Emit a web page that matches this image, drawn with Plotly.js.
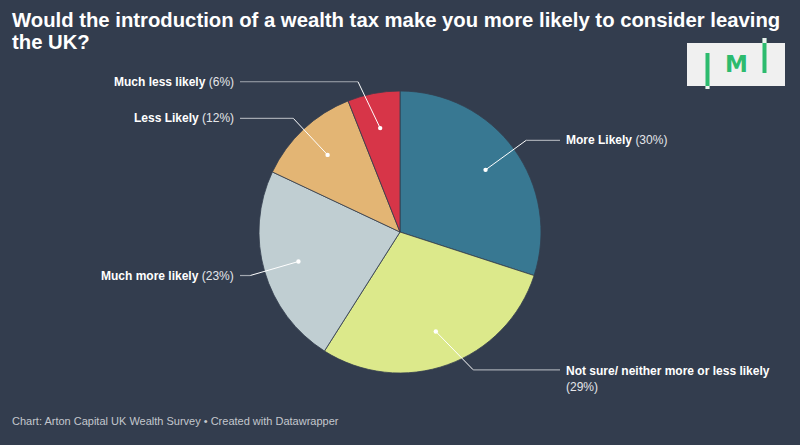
<!DOCTYPE html>
<html>
<head>
<meta charset="utf-8">
<script src="https://cdn.plot.ly/plotly-3.0.1.min.js"></script>
<style>html,body{margin:0;padding:0;background:#333d4e;}#chart{width:800px;height:445px;}</style>
</head>
<body>
<div id="chart"></div>
<script>
// ---- data ----
const categories = ['More Likely', 'Not sure/ neither more or less likely', 'Much more likely', 'Less Likely', 'Much less likely'];
const values = [30, 29, 23, 12, 6];
const colors = ['#387892', '#dce98b', '#c0ced2', '#e3b574', '#d73548'];
const titleLines = ['Would the introduction of a wealth tax make you more likely to consider leaving', 'the UK?'];
const footerText = 'Chart: Arton Capital UK Wealth Survey • Created with Datawrapper';

// ---- layout constants (positions, not data) ----
const W = 800, H = 445;
const cx = 400, cy = 232, R = 141;
const dotR = 0.75 * R, elbowR = 156;
const labelShift = [0, -9, 0, 0, 3];
const breakLine = [false, true, false, false, false];
const px = x => x / W, py = y => 1 - y / H;

const total = values.reduce((a, b) => a + b, 0);
const shapes = [], annotations = [];
let cum = 0;
values.forEach((v, i) => {
  const mid = (cum + v / 2) / total * 2 * Math.PI; cum += v;
  const sx = Math.sin(mid), cyy = Math.cos(mid);
  const dx = cx + dotR * sx, dy = cy - dotR * cyy;
  let ly = cy - elbowR * cyy + labelShift[i];
  const right = sx >= 0;
  const ex = cx + (right ? 1 : -1) * Math.sqrt(Math.max(0, elbowR * elbowR - (ly - cy) * (ly - cy)));
  const hx = right ? 560 : 240;
  shapes.push({type: 'line', xref: 'paper', yref: 'paper', x0: px(dx), y0: py(dy), x1: px(ex), y1: py(ly), line: {color: '#ffffff', width: 1}});
  shapes.push({type: 'line', xref: 'paper', yref: 'paper', x0: px(ex), y0: py(ly), x1: px(hx), y1: py(ly), line: {color: '#a3a8b0', width: 1.2}});
  shapes.push({type: 'circle', xref: 'paper', yref: 'paper', x0: px(dx - 2.2), x1: px(dx + 2.2), y0: py(dy - 2.2), y1: py(dy + 2.2), fillcolor: '#ffffff', line: {width: 0}});
  const txt = '<b>' + categories[i] + '</b>' + (breakLine[i] ? '<br>' : ' ') + '<span style="color:#e4e6ea">(' + v + '%)</span>';
  annotations.push({
    xref: 'paper', yref: 'paper', x: px(right ? 564 : 236), y: py(breakLine[i] ? ly - 8 : ly),
    xanchor: right ? 'left' : 'right', yanchor: breakLine[i] ? 'top' : 'middle', align: 'left',
    text: txt, showarrow: false, font: {family: 'Liberation Sans, Arial, sans-serif', size: 12, color: '#ffffff'}
  });
});

// title (two wrapped lines)
const titleY = [20, 42];
titleLines.forEach((t, i) => {
  annotations.push({xref: 'paper', yref: 'paper', x: px(10), y: py(titleY[i]), xanchor: 'left', yanchor: 'middle',
    text: '<b>' + t + '</b>', showarrow: false, font: {family: 'Liberation Sans, Arial, sans-serif', size: 20.3, color: '#ffffff'}});
});

// footer
annotations.push({xref: 'paper', yref: 'paper', x: px(10), y: py(421), xanchor: 'left', yanchor: 'middle',
  text: footerText, showarrow: false, font: {family: 'Liberation Sans, Arial, sans-serif', size: 11, color: '#c3c7cd'}});

// logo
shapes.push({type: 'rect', xref: 'paper', yref: 'paper', x0: px(687), x1: px(785), y0: py(43), y1: py(86), fillcolor: '#f0f0f0', line: {width: 0}});
shapes.push({type: 'rect', xref: 'paper', yref: 'paper', x0: px(705.5), x1: px(709.5), y0: py(53), y1: py(89), fillcolor: '#2dbb6e', line: {width: 0}});
shapes.push({type: 'rect', xref: 'paper', yref: 'paper', x0: px(705.5), x1: px(709.5), y0: py(86), y1: py(89), fillcolor: '#f0f0f0', line: {width: 0}});
shapes.push({type: 'rect', xref: 'paper', yref: 'paper', x0: px(762.5), x1: px(766.5), y0: py(38), y1: py(73), fillcolor: '#2dbb6e', line: {width: 0}});
shapes.push({type: 'rect', xref: 'paper', yref: 'paper', x0: px(762.5), x1: px(766.5), y0: py(38), y1: py(43), fillcolor: '#f0f0f0', line: {width: 0}});
annotations.push({xref: 'paper', yref: 'paper', x: px(736), y: py(64), xanchor: 'center', yanchor: 'middle',
  text: '<b>M</b>', showarrow: false, font: {family: 'DejaVu Sans, sans-serif', size: 23, color: '#2dbb6e'}});

const trace = {
  type: 'pie', labels: categories, values: values, sort: false, direction: 'clockwise', rotation: 0,
  marker: {colors: colors, line: {color: '#333d4e', width: 0.8}},
  textinfo: 'none', hoverinfo: 'label+percent', showlegend: false,
  domain: {x: [px(cx - R), px(cx + R)], y: [py(cy + R), py(cy - R)]}
};

const layout = {
  width: W, height: H, margin: {l: 0, r: 0, t: 0, b: 0},
  paper_bgcolor: '#333d4e', plot_bgcolor: '#333d4e',
  shapes: shapes, annotations: annotations, showlegend: false
};

Plotly.newPlot('chart', [trace], layout, {displayModeBar: false, staticPlot: true});
</script>
</body>
</html>
